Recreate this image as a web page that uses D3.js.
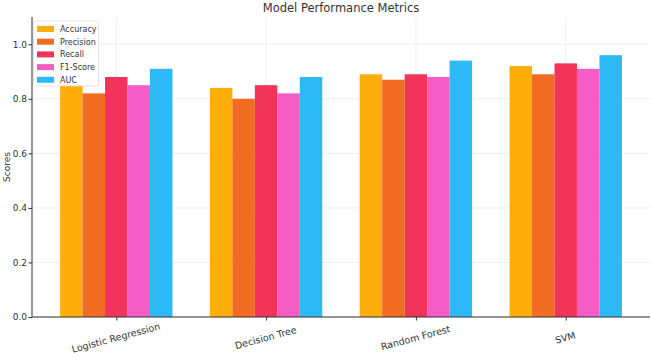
<!DOCTYPE html>
<html><head><meta charset="utf-8">
<script src="https://cdn.jsdelivr.net/npm/d3@7/dist/d3.min.js"></script>
<style>body{margin:0;background:#fff}text{font-family:"DejaVu Sans",sans-serif}</style>
</head><body><svg id="c" width="652" height="356"></svg>
<script>
const models = ["Logistic Regression","Decision Tree","Random Forest","SVM"];
const metrics = ["Accuracy","Precision","Recall","F1-Score","AUC"];
const accuracy  = [0.85,0.84,0.89,0.92];
const precision = [0.82,0.80,0.87,0.89];
const recall    = [0.88,0.85,0.89,0.93];
const f1score   = [0.85,0.82,0.88,0.91];
const auc       = [0.91,0.88,0.94,0.96];
const yTicks = [0.0,0.2,0.4,0.6,0.8,1.0];
const colors = ["#FDAE0B","#F26B23","#F2345A","#F65CC6","#2DB8F6"];
const series = [accuracy,precision,recall,f1score,auc];

const svg = d3.select("#c");
const L=32, R=650, T=17, B=317;
const barW = 0.15;
const x = d3.scaleLinear().domain([-0.5625,3.5625]).range([L,R]);
const y = d3.scaleLinear().domain([0,1.1]).range([B,T]);

// grid
const g = svg.append("g");
g.selectAll(".hg").data(yTicks).join("line")
 .attr("x1",L).attr("x2",R).attr("y1",d=>y(d)).attr("y2",d=>y(d))
 .attr("stroke","#ebebeb").attr("stroke-width",0.8);
g.selectAll(".vg").data(models).join("line")
 .attr("x1",(d,i)=>x(i)).attr("x2",(d,i)=>x(i)).attr("y1",T).attr("y2",B)
 .attr("stroke","#ebebeb").attr("stroke-width",0.8);

// bars
series.forEach((vals,k)=>{
  svg.append("g").selectAll("rect").data(vals).join("rect")
   .attr("x",(d,i)=>x(i+(k-2)*barW-barW/2))
   .attr("width",x(barW)-x(0))
   .attr("y",d=>y(d)).attr("height",d=>y(0)-y(d))
   .attr("fill",colors[k]);
});

// axes
const yAxis = d3.axisLeft(y).tickValues(yTicks).tickFormat(d3.format(".1f")).tickSize(3.5).tickPadding(1.5);
const ya = svg.append("g").attr("transform",`translate(${L},0)`).call(yAxis);
ya.select(".domain").attr("d",`M0,${T}V${B}`).attr("stroke","#333");
ya.selectAll(".tick line").attr("stroke","#333");
ya.selectAll("text").attr("font-size","9px").attr("fill","#333").style("font-family","DejaVu Sans");

const xAxis = d3.axisBottom(x).tickValues([0,1,2,3]).tickFormat(i=>models[i]).tickSize(3.5).tickPadding(2);
const xa = svg.append("g").attr("transform",`translate(0,${B})`).call(xAxis);
xa.select(".domain").attr("d",`M${L},0H${R}`).attr("stroke","#333");
xa.selectAll(".tick line").attr("stroke","#333");
xa.selectAll("text").attr("font-size","9.5px").attr("fill","#333").style("font-family","DejaVu Sans")
  .attr("text-anchor","middle").attr("dy",0).attr("y",0)
  .attr("transform","translate(0,24) rotate(-15)");

// labels
svg.append("text").attr("x",(L+R)/2).attr("y",12).attr("text-anchor","middle")
 .attr("font-size","11.5px").attr("fill","#333").text("Model Performance Metrics");
svg.append("text").attr("transform",`translate(9.5,${(T+B)/2}) rotate(-90)`).attr("text-anchor","middle")
 .attr("font-size","9px").attr("fill","#333").text("Scores");

// legend
const lg = svg.append("g");
lg.append("rect").attr("x",33.5).attr("y",21).attr("width",65).attr("height",65).attr("rx",2)
 .attr("fill","#fff").attr("fill-opacity",0.8).attr("stroke","#dcdcdc").attr("stroke-width",0.8);
metrics.forEach((m,k)=>{
  const cy = 29 + k*12.7;
  lg.append("rect").attr("x",37).attr("y",cy-3).attr("width",17).attr("height",6).attr("fill",colors[k]);
  lg.append("text").attr("x",60).attr("y",cy+3).attr("font-size","8px").attr("fill","#333").text(m);
});
</script></body></html>
